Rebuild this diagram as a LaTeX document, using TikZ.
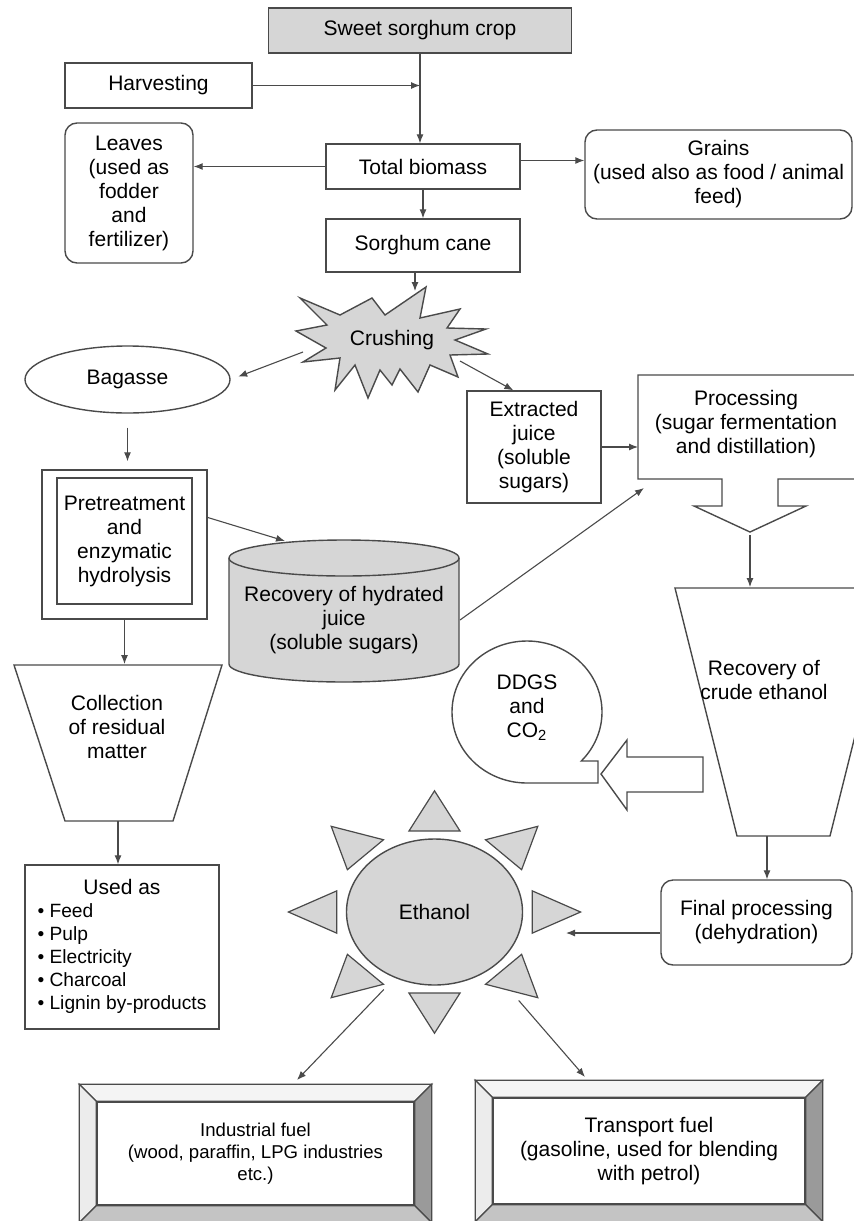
\documentclass[tikz,border=0pt]{standalone}
\usepackage{fontspec}
\setmainfont{Liberation Sans}
\usepackage{tikz}
\usetikzlibrary{arrows.meta,shapes.geometric,calc}
\definecolor{edgegray}{HTML}{4A4A4A}
\definecolor{fillgray}{HTML}{D6D6D6}
\definecolor{bevlight}{HTML}{F4F4F4}
\definecolor{bevside}{HTML}{ECECEC}
\definecolor{bevdark}{HTML}{9A9A9A}
\definecolor{bevmid}{HTML}{C4C4C4}
\newcommand{\bevelframe}[2]{% #1 = inner node, #2 = depth of the frame
  \filldraw[bevel, fill=bevlight] ($(#1.north west)+(-#2,#2)$) -- ($(#1.north east)+(#2,#2)$) -- (#1.north east) -- (#1.north west) -- cycle;
  \filldraw[bevel, fill=bevside] ($(#1.north west)+(-#2,#2)$) -- (#1.north west) -- (#1.south west) -- ($(#1.south west)+(-#2,-#2)$) -- cycle;
  \filldraw[bevel, fill=bevdark] ($(#1.north east)+(#2,#2)$) -- ($(#1.south east)+(#2,-#2)$) -- (#1.south east) -- (#1.north east) -- cycle;
  \filldraw[bevel, fill=bevmid] ($(#1.south west)+(-#2,-#2)$) -- ($(#1.south east)+(#2,-#2)$) -- (#1.south east) -- (#1.south west) -- cycle;
}

\begin{document}
\begin{tikzpicture}[x=0.5pt, y=-0.5pt,
  font=\fontsize{10.5}{12}\selectfont,
  box/.style={draw=edgegray, line width=0.7pt, fill=white, align=center, inner sep=2pt},
  roundbox/.style={box, rounded corners=6pt},
  plaintext/.style={align=center, inner sep=1pt},
  outline/.style={draw=edgegray, line width=0.7pt},
  bevel/.style={draw=edgegray, line width=0.6pt},
  ray/.style={draw=edgegray, line width=0.6pt, fill=fillgray},
  arr/.style={draw=edgegray, line width=0.55pt, -{Latex[length=4.5pt,width=3.5pt]}}]
\useasboundingbox (0,0) rectangle (854,1221);
\clip (0,0) rectangle (854,1221);

% Crop and first split
\node[box, fill=fillgray, minimum width=151.5pt, minimum height=22.5pt] (crop) at (420,30.5) {Sweet sorghum crop};
\node[box, minimum width=93.5pt, minimum height=22.5pt] (harvest) at (158.5,85.5) {Harvesting};
\node[box, minimum width=97pt, minimum height=22.5pt] (biomass) at (423,166.5) {Total biomass};
\node[roundbox, minimum width=64pt, minimum height=70pt] (leaves) at (129,193) {Leaves\\(used as\\fodder\\and\\fertilizer)};
\node[roundbox, minimum width=133.5pt, minimum height=44.5pt] (grains) at (718.5,174.5) {Grains\\(used also as food / animal\\feed)};
\node[box, minimum width=97pt, minimum height=26.5pt] (cane) at (423,245.5) {Sorghum cane};

\draw[arr] (crop.south) -- (crop.south |- biomass.north);
\draw[arr] (harvest.east) -- (harvest.east -| crop.south);
\draw[arr] (biomass.west) -- (biomass.west -| leaves.east);
\draw[arr] ([yshift=3pt]biomass.east) -- ([yshift=3pt]biomass.east -| grains.west);
\draw[arr] (biomass.south) -- (cane.north);

% Crushing burst
\filldraw[outline, fill=fillgray] (426,287) -- (420,318) -- (460,309) -- (447,328) -- (486,329) -- (455,340)
  -- (488,354) -- (450,355) -- (458,377) -- (430,365) -- (418,392) -- (400,369) -- (392,385) -- (380,370)
  -- (368,398) -- (355,365) -- (335,390) -- (340,358) -- (303,362) -- (326,348) -- (296,331) -- (327,325)
  -- (300,298) -- (340,315) -- (372,298) -- (385,315) -- cycle;
\node[plaintext] (crush) at (392,340) {Crushing};
\coordinate (burstin) at (415,291);
\coordinate (burstL) at (303,352);
\coordinate (burstR) at (460,361);
\draw[arr] (burstin |- cane.south) -- (burstin);

\node[ellipse, draw=edgegray, line width=0.7pt, minimum width=102.5pt, minimum height=33.5pt, inner sep=0pt] (bagasse) at (127.5,379.5) {Bagasse};
\node[box, minimum width=67pt, minimum height=56pt] (juice) at (534,447) {Extracted\\juice\\(soluble\\sugars)};
\draw[arr, shorten >=4pt] (burstL) -- (bagasse.east);
\draw[arr] (burstR) -- (juice.110);

% Processing box with outlet
\draw[outline] (638,375) -- (862,375) -- (862,479) -- (778,479) -- (778,506) -- (806,506) -- (750,532)
  -- (694,506) -- (722,506) -- (722,479) -- (638,479) -- cycle;
\node[plaintext] (proc) at (746,424) {Processing\\(sugar fermentation\\and distillation)};
\coordinate (procW) at (638,447);
\coordinate (procSW) at (644,488);
\coordinate (procout) at (750,535);
\draw[arr] (juice.east) -- (juice.east -| procW);

% Bagasse branch
\node[box, minimum width=82.5pt, minimum height=74.5pt] (pretreat) at (124.5,544.5) {};
\node[box, minimum width=67.5pt, minimum height=63pt] (pretreatin) at (124.5,541) {Pretreatment\\and\\enzymatic\\hydrolysis};
\draw[arr, shorten <=7pt, shorten >=4pt] (bagasse.south) -- (bagasse.south |- pretreat.north);

% Tank
\filldraw[outline, fill=fillgray] (229,558) -- (229,664) arc[start angle=180, end angle=360, x radius=57.5pt, y radius=9pt]
  -- (459,558) arc[start angle=0, end angle=180, x radius=57.5pt, y radius=9pt] -- cycle;
\draw[outline] (229,558) arc[start angle=180, end angle=360, x radius=57.5pt, y radius=9pt];
\node[plaintext] (tank) at (344,620) {Recovery of hydrated\\juice\\(soluble sugars)};
\coordinate (tanktop) at (285,541);
\coordinate (tankR) at (460,620);
\draw[arr] (pretreat.18) -- (tanktop);
\draw[arr] (tankR) -- (procSW);

% Residual matter
\draw[outline] (14,665) -- (222,665) -- (173,821) -- (65,821) -- cycle;
\node[plaintext] (collect) at (117,727) {Collection\\of residual\\matter};
\coordinate (collin) at (121,664);
\coordinate (collout) at (118,821);
\draw[arr] (pretreat.south) -- (pretreat.south |- collin);

\node[box, minimum width=97pt, minimum height=82pt, font=\fontsize{9.6}{11.5}\selectfont] (usedas) at (122,947)
  {\begin{tabular}{@{}l@{}}\multicolumn{1}{@{}c@{}}{\fontsize{10.5}{12}\selectfont Used as}\\
   \textbullet\ Feed\\ \textbullet\ Pulp\\ \textbullet\ Electricity\\ \textbullet\ Charcoal\\ \textbullet\ Lignin by-products\end{tabular}};
\draw[arr] (collout) -- (collout |- usedas.north);

% Crude ethanol and DDGS
\draw[outline] (675,588) -- (892,588) -- (830,836) -- (737,836) -- cycle;
\node[plaintext] (recov) at (764,680) {Recovery of\\crude ethanol};
\coordinate (recovtop) at (750,587);
\coordinate (recovout) at (767,836);
\draw[arr] (procout) -- (recovtop);

\draw[outline] (527,783) arc[start angle=-90, end angle=-403.6, x radius=37.5pt, y radius=35.5pt] -- (598,761) -- (598,783) -- cycle;
\node[plaintext] (ddgs) at (527,708) {DDGS\\and\\CO\textsubscript{2}};
\draw[outline, fill=white] (703,757) -- (627,757) -- (627,740) -- (601,774) -- (627,810) -- (627,792) -- (703,792) -- cycle;

% Ethanol sun
\node[ellipse, draw=edgegray, line width=0.7pt, fill=fillgray, minimum width=88pt, minimum height=73pt, inner sep=0pt] (ethanol) at (434.5,912) {Ethanol};
\begin{scope}[shift={(ethanol.center)}, x=44pt, y=36.5pt]
\foreach \a in {0,45,...,315}
  \filldraw[ray] (\a:1.66) -- ({1.11*cos(\a)-0.29*sin(\a)},{1.11*sin(\a)+0.29*cos(\a)})
    -- ({1.11*cos(\a)+0.29*sin(\a)},{1.11*sin(\a)-0.29*cos(\a)}) -- cycle;
\end{scope}

\node[roundbox, minimum width=95.5pt, minimum height=42.5pt] (final) at (756.5,922.5) {Final processing\\(dehydration)};
\coordinate (sunR) at (566,933);
\draw[arr] (recovout) -- (recovout |- final.north);
\draw[arr] (final.west |- sunR) -- (sunR);

% Fuels
\node[box, minimum width=158.5pt, minimum height=51.5pt, font=\fontsize{9.3}{11}\selectfont] (indfuel) at (255.5,1153.5) {Industrial fuel\\(wood, paraffin, LPG industries\\etc.)};
\bevelframe{indfuel}{8.5pt}
\node[box, minimum width=156pt, minimum height=53pt] (transfuel) at (649,1151) {Transport fuel\\(gasoline, used for blending\\with petrol)};
\bevelframe{transfuel}{8.5pt}
\coordinate (indtop) at (297,1080);
\coordinate (trantop) at (585,1077);
\draw[arr, shorten <=8pt] (ethanol.239) -- (indtop);
\draw[arr, shorten <=21pt] (ethanol.-45) -- (trantop);
\end{tikzpicture}
\end{document}
